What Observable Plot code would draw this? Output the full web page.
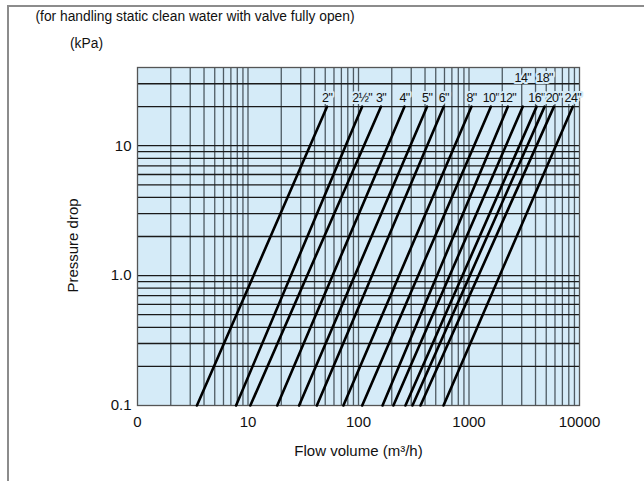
<!DOCTYPE html>
<html>
<head>
<meta charset="utf-8">
<script src="https://cdn.jsdelivr.net/npm/d3@7"></script>
<script src="https://cdn.jsdelivr.net/npm/@observablehq/plot@0.6"></script>
<style>
  html, body { margin: 0; padding: 0; background: #fff; overflow: hidden; }
  #wrap { position: relative; width: 644px; height: 481px; }
  #wrap svg { position: absolute; left: 0; top: 0; }
  #border { position: absolute; left: 7px; top: 5px; width: 700px; height: 520px;
            border-left: 2px solid #8c8c8c; border-top: 2px solid #8c8c8c; pointer-events: none; }
</style>
</head>
<body>
<div id="wrap"><div id="border"></div></div>
<script>
// Pipe sizes and their flow (m3/h) at the two ends of each line
const sizes = ['2"', '2½"', '3"', '4"', '5"', '6"', '8"', '10"', '12"', '14"', '16"', '18"', '20"', '24"'];
const flowAtLowDrop  = [3.45, 7.8, 10.5, 18.4, 29, 42, 73, 108, 165, 207, 266, 308, 364, 588];   // at 0.1 kPa
const flowAtHighDrop = [52, 108, 160, 261, 418, 591, 1054, 1580, 2250, 3070, 4090, 4830, 5870, 8700]; // at 20 kPa
const lowDrop = 0.1;
const highDrop = 20;
const raisedLabels = ['14"', '18"'];

// Axis ticks and labels
const xTicks = [1, 10, 100, 1000, 10000];
const xTickLabels = ["0", "10", "100", "1000", "10000"];
const yTicks = [0.1, 1, 10];
const yTickLabels = ["0.1", "1.0", "10"];

// Grid lines
const xGrid = [2,3,4,5,6,7,8,9,10, 20,30,40,50,60,70,80,90,100, 200,300,400,500,600,700,800,900,1000,
               2000,3000,4000,5000,6000,7000,8000,9000];
const yGrid = [0.2,0.3,0.4,0.5,0.6,0.7,0.8,0.9,1, 2,3,4,5,6,7,8,9,10, 20,30];

const title = "(for handling static clean water with valve fully open)";
const unit = "(kPa)";
const xLabel = "Flow volume (m³/h)";
const yLabel = "Pressure drop";

// Build the line table
const lines = [];
sizes.forEach((s, i) => {
  lines.push({size: s, q: flowAtLowDrop[i], p: lowDrop});
  lines.push({size: s, q: flowAtHighDrop[i], p: highDrop});
});
const tops = sizes.map((s, i) => ({size: s, q: flowAtHighDrop[i], p: highDrop}));

const xFmt = new Map(xTicks.map((t, i) => [t, xTickLabels[i]]));
const yFmt = new Map(yTicks.map((t, i) => [t, yTickLabels[i]]));

const bg = "#d5ebf8";

const chart = Plot.plot({
  width: 644,
  height: 481,
  marginLeft: 137,
  marginRight: 65,
  marginTop: 67,
  marginBottom: 76,
  style: {fontFamily: "'Liberation Sans', Arial, Helvetica, sans-serif", fontSize: "15px", color: "#111", overflow: "visible", background: "transparent"},
  x: {type: "log", domain: [1, 10000]},
  y: {type: "log", domain: [0.1, 40]},
  marks: [
    Plot.frame({fill: bg}),
    Plot.ruleX(xGrid, {stroke: "#4e5a62", strokeWidth: 1.3}),
    Plot.ruleY(yGrid, {stroke: "#1a1a1a", strokeWidth: 1.3}),
    Plot.frame({stroke: "#555", strokeWidth: 1.3}),
    Plot.line(lines, {x: "q", y: "p", z: "size", stroke: "#000", strokeWidth: 2.6}),
    Plot.text(tops.filter(d => !raisedLabels.includes(d.size)), {
      x: "q", y: "p", text: "size", dy: -9, fontSize: 12.5,
      fill: "#111", stroke: bg, strokeWidth: 4, ariaDescription: "size-labels"
    }),
    Plot.text(tops.filter(d => raisedLabels.includes(d.size)), {
      x: "q", y: "p", text: "size", dy: -29, fontSize: 12.5,
      fill: "#111", stroke: bg, strokeWidth: 4, ariaDescription: "size-labels"
    }),
    Plot.axisX({ticks: xTicks, tickSize: 0, tickPadding: 11, tickFormat: d => xFmt.get(d), label: null, fontSize: 15}),
    Plot.axisY({ticks: yTicks, tickSize: 0, tickPadding: 6, tickFormat: d => yFmt.get(d), label: null, fontSize: 15}),
    Plot.text([title], {frameAnchor: "top-left", dx: -102, dy: -51, textAnchor: "start", lineAnchor: "middle", fontSize: 13.8}),
    Plot.text([unit], {frameAnchor: "top-left", dx: -51, dy: -24, textAnchor: "middle", lineAnchor: "middle", fontSize: 13.8}),
    Plot.text([xLabel], {frameAnchor: "bottom", dy: 46, textAnchor: "middle", lineAnchor: "middle", fontSize: 15}),
    Plot.text([yLabel], {frameAnchor: "left", dx: -64, dy: 9, rotate: -90, textAnchor: "middle", lineAnchor: "middle", fontSize: 15})
  ]
});
// Narrow the pipe-size labels like the condensed type of the original
d3.select(chart).selectAll('g[aria-description="size-labels"] text').attr("letter-spacing", "-0.6");
document.getElementById("wrap").prepend(chart);
</script>
</body>
</html>
